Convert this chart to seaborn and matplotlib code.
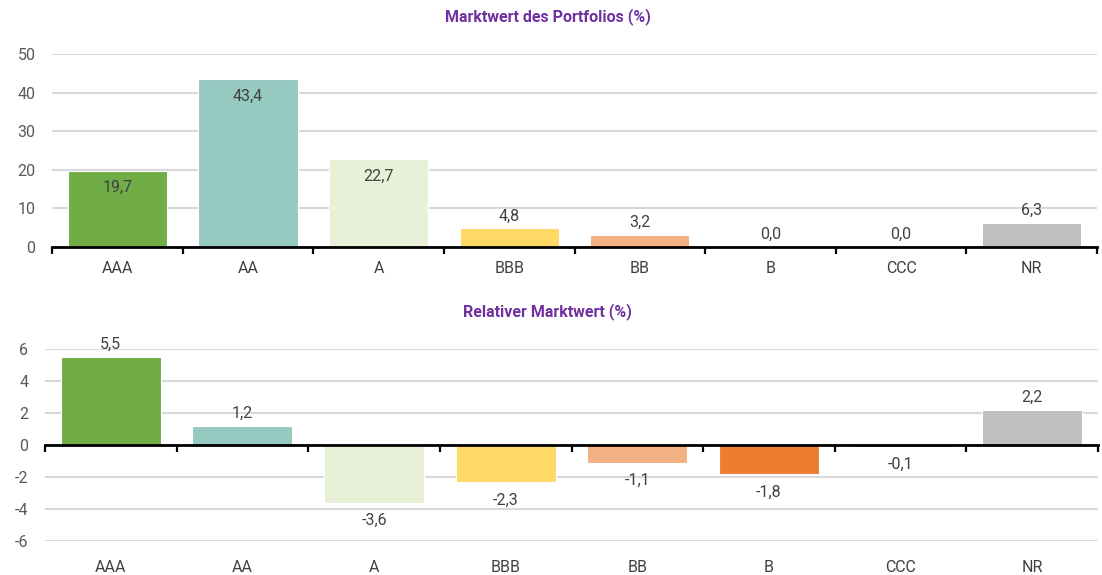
import numpy as np
import pandas as pd
import matplotlib
matplotlib.use("Agg")
import matplotlib.pyplot as plt
import seaborn as sns

# data ---------------------------------------------------------------------
ratings = ["AAA", "AA", "A", "BBB", "BB", "B", "CCC", "NR"]
tick_labels = ["AAA", "AA", "A", "BBB", "BB", "B", "CCC", "NR"]
portfolio = [19.7, 43.4, 22.7, 4.8, 3.2, 0.0, 0.0, 6.3]
relative = [5.5, 1.2, -3.6, -2.3, -1.1, -1.8, -0.1, 2.2]
bar_colors = ["#70AD47", "#96C9BF", "#E8F0D8", "#FFD966",
              "#F4B183", "#ED7D31", "#A5A5A5", "#BFBFBF"]
title_top = "Marktwert des Portfolios (%)"
title_bottom = "Relativer Marktwert (%)"

sns.set_theme(style="white")
plt.rcParams["font.family"] = ["Roboto", "DejaVu Sans"]

TXT = "#404040"
TICK = "#595959"
GRID = "#D9D9D9"
PURPLE = "#7030A0"
palette = dict(zip(ratings, bar_colors))


def fmt(v):
    return f"{v:.1f}".replace(".", ",")


def base_axes(ax, vals, ylim, yticks):
    df = pd.DataFrame({"rating": ratings, "value": vals})
    sns.barplot(data=df, x="rating", y="value", hue="rating", order=ratings,
                palette=palette, legend=False, width=0.76, saturation=1,
                edgecolor="white", linewidth=0.8, ax=ax, zorder=3)
    ax.set_xlim(-0.5, len(ratings) - 0.5)
    ax.set_ylim(*ylim)
    ax.set_yticks(yticks)
    ax.set_yticklabels([str(t) for t in yticks])
    ax.yaxis.grid(True, color=GRID, lw=1.5, zorder=0)
    ax.set_axisbelow(True)
    for s in ["top", "right", "left"]:
        ax.spines[s].set_visible(False)
    ax.spines["bottom"].set_color("black")
    ax.spines["bottom"].set_linewidth(2)
    ax.spines["bottom"].set_zorder(4)
    ax.tick_params(axis="y", length=0, pad=12, labelsize=11.5, labelcolor=TICK)
    ax.set_xlabel("")
    ax.set_ylabel("")
    ax.set_xticks(np.arange(-0.5, len(ratings), 1), minor=True)
    ax.tick_params(axis="x", which="minor", bottom=True, length=5, width=1.6,
                   color="black", direction="out")
    return ax


fig = plt.figure(figsize=(11.02, 5.75), dpi=100)

# top chart ----------------------------------------------------------------
ax1 = fig.add_axes([52 / 1102, 1 - 247 / 575, (1097 - 52) / 1102, (247 - 54) / 575])
base_axes(ax1, portfolio, (0, 50), [0, 10, 20, 30, 40, 50])
ax1.set_xticks(range(len(ratings)))
ax1.set_xticklabels(tick_labels)
ax1.tick_params(axis="x", which="major", length=0, pad=10,
                labelsize=11.5, labelcolor=TXT)
for i, v in enumerate(portfolio):
    off = -12 if v > 10 else 9
    ax1.annotate(fmt(v), (i, v), xytext=(0, off), textcoords="offset points",
                 ha="center", va="center", fontsize=11.5, color=TXT,
                 annotation_clip=False, zorder=5)

# bottom chart -------------------------------------------------------------
ax2 = fig.add_axes([45 / 1102, 1 - 541 / 575, (1098 - 45) / 1102, (541 - 349) / 575])
base_axes(ax2, relative, (-6, 6), [-6, -4, -2, 0, 2, 4, 6])
ax2.spines["bottom"].set_position(("data", 0))
ax2.set_xticks(range(len(ratings)))
ax2.tick_params(axis="x", which="major", length=0, labelbottom=False)
sec = ax2.secondary_xaxis("bottom")
sec.set_xticks(range(len(ratings)))
sec.set_xticklabels(tick_labels)
sec.spines["bottom"].set_visible(False)
sec.tick_params(axis="x", which="both", length=0, pad=14,
                labelsize=11.5, labelcolor=TXT)
for i, v in enumerate(relative):
    off = 9 if v >= 0 else -13
    ax2.annotate(fmt(v), (i, v), xytext=(0, off), textcoords="offset points",
                 ha="center", va="center", fontsize=11.5, color=TXT,
                 annotation_clip=False, zorder=5)

fig.text(0.497, 1 - 17 / 575, title_top, ha="center", va="center",
         fontsize=11.5, fontweight="bold", color=PURPLE)
fig.text(0.497, 1 - 312 / 575, title_bottom, ha="center", va="center",
         fontsize=11.5, fontweight="bold", color=PURPLE)

fig.savefig("out.png", dpi=100)
